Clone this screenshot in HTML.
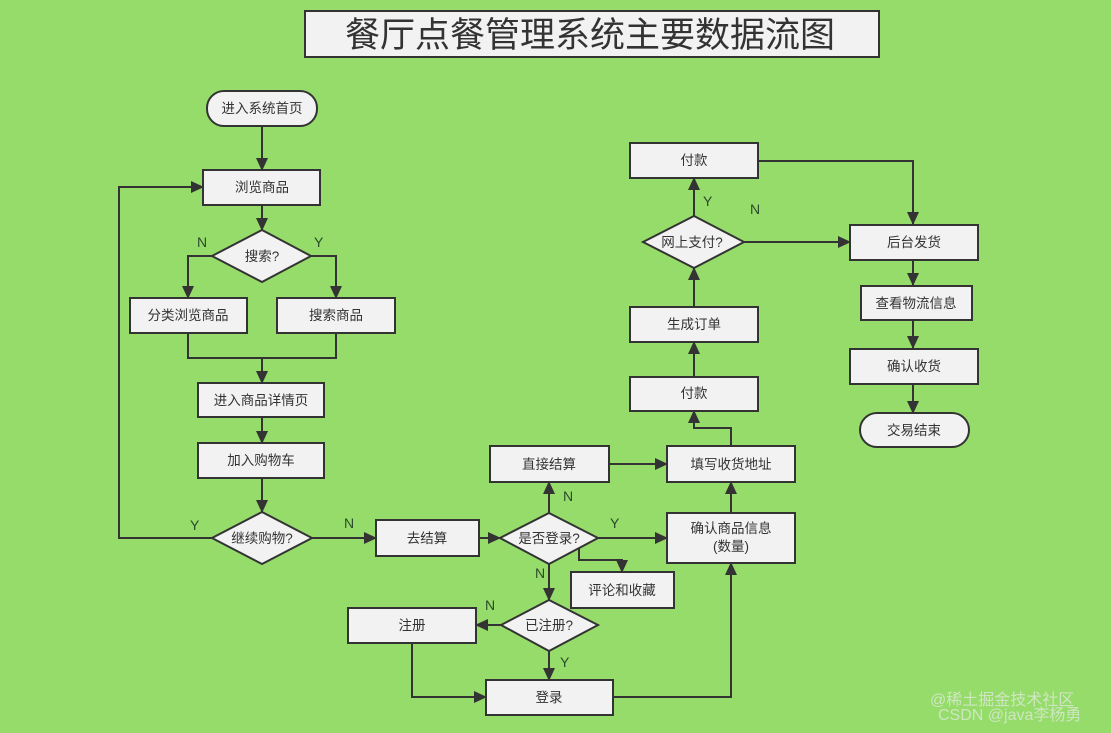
<!DOCTYPE html>
<html><head><meta charset="utf-8"><style>
html,body{margin:0;padding:0;background:#96dc6a;}
svg{display:block;}
text{font-family:"Liberation Sans","Noto Sans CJK SC",sans-serif;font-size:13.5px;fill:#333;}
.b{fill:#f2f2f2;stroke:#333;stroke-width:2;}
.l{fill:none;stroke:#333;stroke-width:2;}
.lb{font-size:14px;fill:#2a4a2a;}
</style></head><body>
<svg width="1111" height="733" viewBox="0 0 1111 733">
<defs><marker id="a" markerWidth="14" markerHeight="14" refX="12" refY="6" orient="auto" markerUnits="userSpaceOnUse"><path d="M0,0 L13,6 L0,12 z" fill="#333"/></marker></defs>
<rect x="305" y="11" width="574" height="46" fill="#f2f2f2" stroke="#333" stroke-width="2"/>
<text x="590" y="47" text-anchor="middle" style="font-size:35px">餐厅点餐管理系统主要数据流图</text>

<g class="l" marker-end="url(#a)">
<path d="M262,126 V170"/>
<path d="M262,205 V230"/>
<path d="M212,256 H188 V298"/>
<path d="M311,256 H336 V298"/>
<path d="M262,358 V383"/>
<path d="M262,417 V443"/>
<path d="M262,478 V512"/>
<path d="M212,538 H119 V187 H203"/>
<path d="M312,538 H376"/>
<path d="M479,538 H500"/>
<path d="M549,513 V482"/>
<path d="M598,538 H667"/>
<path d="M579,548 V560 H622 V572"/>
<path d="M549,564 V600"/>
<path d="M501,625 H476"/>
<path d="M549,651 V680"/>
<path d="M412,643 V697 H486"/>
<path d="M613,697 H731 V563"/>
<path d="M609,464 H667"/>
<path d="M731,513 V482"/>
<path d="M731,446 V428 H694 V411"/>
<path d="M694,377 V342"/>
<path d="M694,307 V268"/>
<path d="M694,216 V178"/>
<path d="M744,242 H850"/>
<path d="M758,161 H913 V224"/>
<path d="M913,260 V285"/>
<path d="M913,320 V348"/>
<path d="M913,384 V413"/>
</g>
<path class="l" d="M188,333 V358 H336 V333"/>

<rect class="b" x="207" y="91" width="110" height="35" rx="17"/><text x="262" y="113" text-anchor="middle">进入系统首页</text>
<rect class="b" x="203" y="170" width="117" height="35"/><text x="262" y="192" text-anchor="middle">浏览商品</text>
<path class="b" d="M262,230 L311,256 L262,282 L212,256 z"/><text x="262" y="261" text-anchor="middle">搜索?</text>
<rect class="b" x="130" y="298" width="117" height="35"/><text x="188" y="320" text-anchor="middle">分类浏览商品</text>
<rect class="b" x="277" y="298" width="118" height="35"/><text x="336" y="320" text-anchor="middle">搜索商品</text>
<rect class="b" x="198" y="383" width="126" height="34"/><text x="261" y="405" text-anchor="middle">进入商品详情页</text>
<rect class="b" x="198" y="443" width="126" height="35"/><text x="261" y="465" text-anchor="middle">加入购物车</text>
<path class="b" d="M262,512 L312,538 L262,564 L212,538 z"/><text x="262" y="543" text-anchor="middle">继续购物?</text>
<rect class="b" x="376" y="520" width="103" height="36"/><text x="427" y="543" text-anchor="middle">去结算</text>
<path class="b" d="M549,513 L598,538 L549,564 L500,538 z"/><text x="549" y="543" text-anchor="middle">是否登录?</text>
<rect class="b" x="490" y="446" width="119" height="36"/><text x="549" y="469" text-anchor="middle">直接结算</text>
<rect class="b" x="571" y="572" width="103" height="36"/><text x="622" y="595" text-anchor="middle">评论和收藏</text>
<rect class="b" x="667" y="513" width="128" height="50"/><text x="731" y="533" text-anchor="middle">确认商品信息</text><text x="731" y="551" text-anchor="middle">(数量)</text>
<path class="b" d="M549,600 L598,625 L549,651 L501,625 z"/><text x="549" y="630" text-anchor="middle">已注册?</text>
<rect class="b" x="348" y="608" width="128" height="35"/><text x="412" y="630" text-anchor="middle">注册</text>
<rect class="b" x="486" y="680" width="127" height="35"/><text x="549" y="702" text-anchor="middle">登录</text>
<rect class="b" x="667" y="446" width="128" height="36"/><text x="731" y="469" text-anchor="middle">填写收货地址</text>
<rect class="b" x="630" y="377" width="128" height="34"/><text x="694" y="398" text-anchor="middle">付款</text>
<rect class="b" x="630" y="307" width="128" height="35"/><text x="694" y="329" text-anchor="middle">生成订单</text>
<path class="b" d="M694,216 L744,242 L694,268 L643,242 z"/><text x="692" y="247" text-anchor="middle">网上支付?</text>
<rect class="b" x="630" y="143" width="128" height="35"/><text x="694" y="165" text-anchor="middle">付款</text>
<rect class="b" x="850" y="225" width="128" height="35"/><text x="914" y="247" text-anchor="middle">后台发货</text>
<rect class="b" x="861" y="286" width="111" height="34"/><text x="916" y="308" text-anchor="middle">查看物流信息</text>
<rect class="b" x="850" y="349" width="128" height="35"/><text x="914" y="371" text-anchor="middle">确认收货</text>
<rect class="b" x="860" y="413" width="109" height="34" rx="17"/><text x="914" y="435" text-anchor="middle">交易结束</text>

<text class="lb" x="197" y="247">N</text>
<text class="lb" x="314" y="247">Y</text>
<text class="lb" x="190" y="530">Y</text>
<text class="lb" x="344" y="528">N</text>
<text class="lb" x="563" y="501">N</text>
<text class="lb" x="610" y="528">Y</text>
<text class="lb" x="535" y="578">N</text>
<text class="lb" x="485" y="610">N</text>
<text class="lb" x="560" y="667">Y</text>
<text class="lb" x="703" y="206">Y</text>
<text class="lb" x="750" y="214">N</text>

<text x="930" y="705" style="font-size:16px;fill:#d8e8d0;opacity:.85">@稀土掘金技术社区</text>
<text x="938" y="720" style="font-size:16px;fill:#d8e8d0;opacity:.85">CSDN @java李杨勇</text>
</svg>
</body></html>
